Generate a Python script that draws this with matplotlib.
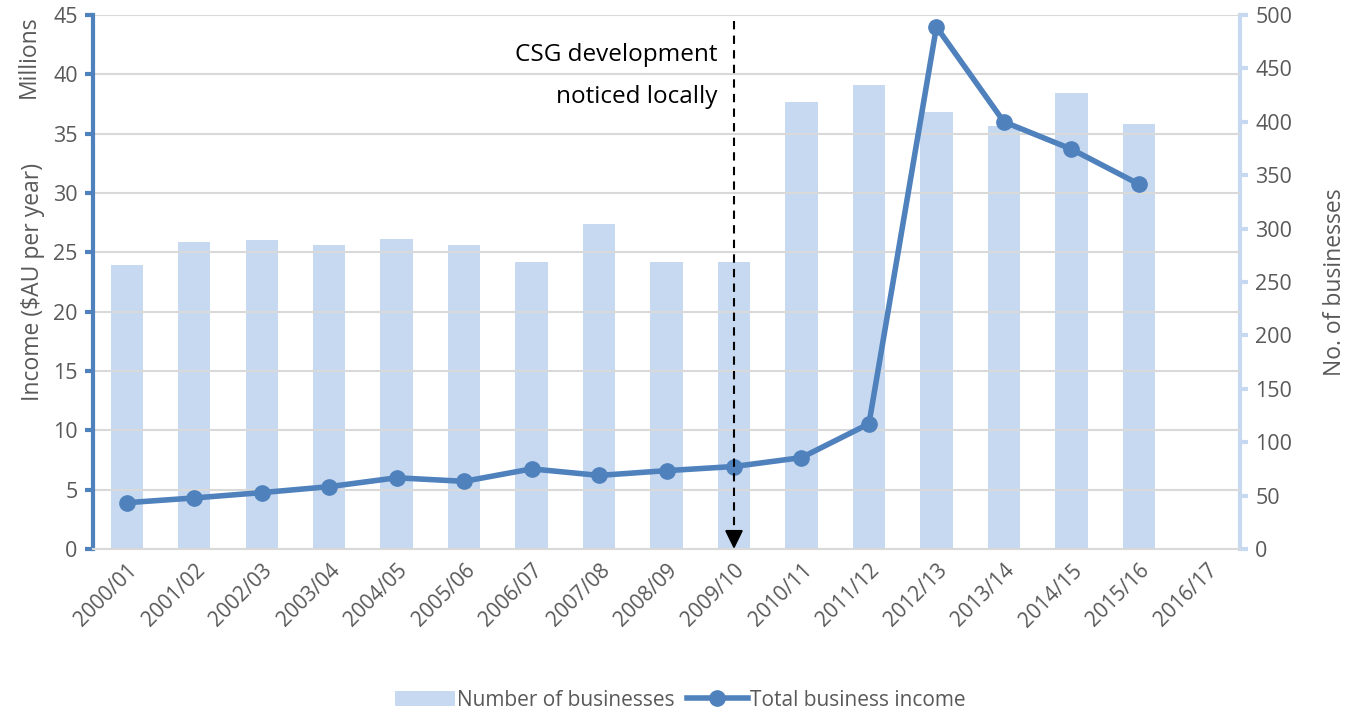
import numpy as np
import matplotlib.pyplot as plt

plt.rcParams['font.family'] = ['Open Sans', 'DejaVu Sans']

years = ['2000/01', '2001/02', '2002/03', '2003/04', '2004/05', '2005/06',
         '2006/07', '2007/08', '2008/09', '2009/10', '2010/11', '2011/12',
         '2012/13', '2013/14', '2014/15', '2015/16', '2016/17']
# number of businesses (right axis)
businesses = [266, 287, 289, 285, 290, 285, 269, 304, 269, 269,
              419, 434, 409, 396, 427, 398, np.nan]
# total business income, millions $AU (left axis)
income = [3.9, 4.3, 4.75, 5.25, 6.0, 5.7, 6.75, 6.2, 6.6, 6.95,
          7.7, 10.55, 44.0, 36.0, 33.7, 30.75, np.nan]

grey = '#595959'
line_col = '#4F81BD'
bar_col = '#C6D9F1'

fig = plt.figure(figsize=(13.6, 7.15), dpi=100)
ax = fig.add_axes([0.0684, 0.2322, 0.8434, 0.7468])
ax2 = ax.twinx()

x = np.arange(len(years))
ax2.bar(x, businesses, width=0.48, color=bar_col, label='Number of businesses', zorder=1)
ax.plot(x, income, color=line_col, lw=4, marker='o', ms=11, label='Total business income', zorder=3)

ax.set_zorder(ax2.get_zorder() + 1)
ax.patch.set_visible(False)

ax.set_xlim(-0.5, len(years) - 0.5)
ax.set_ylim(0, 45)
ax.set_yticks(range(0, 46, 5))
ax2.set_ylim(0, 500)
ax2.set_yticks(range(0, 501, 50))

# gridlines from the left axis
ax.yaxis.grid(True, color='#D9D9D9', lw=1.5, zorder=0)
ax.set_axisbelow(True)

for s in ['top', 'right']:
    ax.spines[s].set_visible(False)
for s in ['top', 'left', 'bottom']:
    ax2.spines[s].set_visible(False)
ax.spines['left'].set_color(line_col)
ax.spines['left'].set_linewidth(3)
ax.spines['bottom'].set_color('#D9D9D9')
ax.spines['bottom'].set_linewidth(1.5)
ax2.spines['right'].set_color(bar_col)
ax2.spines['right'].set_linewidth(3)

ax.tick_params(axis='y', colors=line_col, length=6, width=3, labelcolor=grey, labelsize=15.5, pad=5)
ax2.tick_params(axis='y', colors=bar_col, length=6, width=3, labelcolor=grey, labelsize=15.5, pad=5)
ax.tick_params(axis='x', length=0, labelcolor=grey, labelsize=15, pad=8)

ax.set_xticks(x)
ax.set_xticklabels(years, rotation=45, ha='right', rotation_mode='anchor')

ax.set_ylabel('Income ($AU per year)', color=grey, fontsize=16.5, labelpad=6)
ax2.set_ylabel('No. of businesses', color=grey, fontsize=16.5, labelpad=22)
fig.text(0.012, 0.978, 'Millions', rotation=90, va='top', ha='left', color=grey, fontsize=16.5)

# annotation: dashed line + solid arrow head
ax.plot([9, 9], [44.5, 1.2], color='black', lw=1.5, ls=(0, (4, 3)), zorder=4)
ax.annotate('', xy=(9, 0), xytext=(9, 1.3),
            arrowprops=dict(arrowstyle='-|>,head_length=0.45,head_width=0.22',
                            color='black', lw=1.5, mutation_scale=25,
                            shrinkA=0, shrinkB=0), zorder=5)
ax.text(8.75, 41.6, 'CSG development', ha='right', va='center', fontsize=17.5, color='black')
ax.text(8.75, 38.1, 'noticed locally', ha='right', va='center', fontsize=17.5, color='black')

h1, l1 = ax2.get_legend_handles_labels()
h2, l2 = ax.get_legend_handles_labels()
fig.legend(h1 + h2, l1 + l2, loc='lower center', bbox_to_anchor=(0.5, -0.02), ncol=2,
           frameon=False, fontsize=15, labelcolor=grey, handlelength=2.9,
           handletextpad=0.1, columnspacing=0.6)

fig.savefig('out.png', dpi=100)
